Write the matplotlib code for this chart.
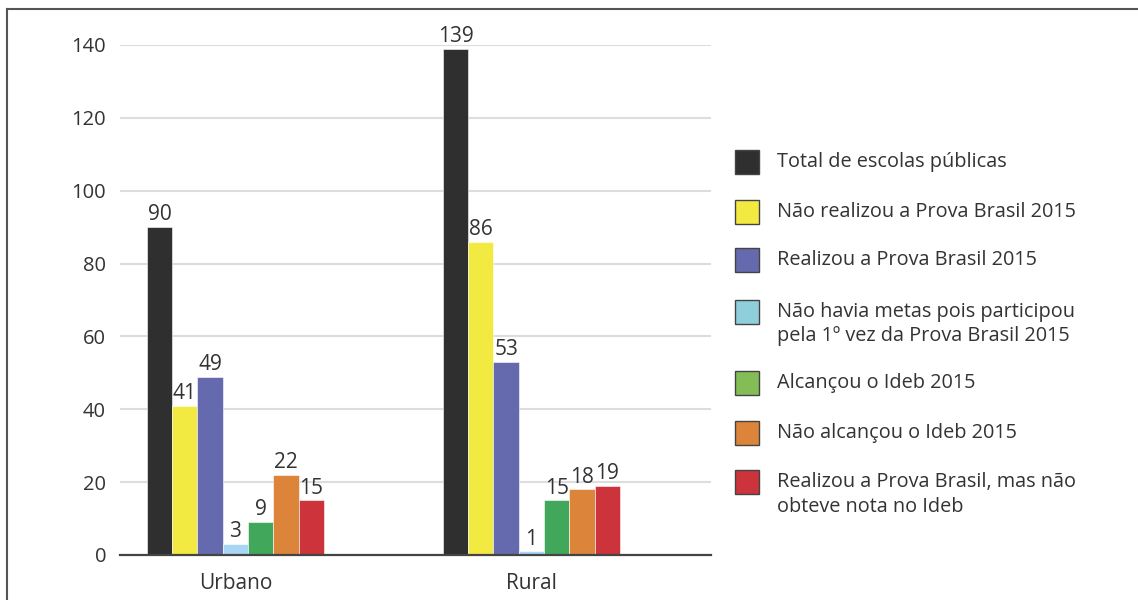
import matplotlib
matplotlib.use("Agg")
import matplotlib.pyplot as plt
from matplotlib.patches import Rectangle
from matplotlib.lines import Line2D
import numpy as np

categories = ["Urbano", "Rural"]
series_labels = [
    "Total de escolas públicas",
    "Não realizou a Prova Brasil 2015",
    "Realizou a Prova Brasil 2015",
    "Não havia metas pois participou\npela 1º vez da Prova Brasil 2015",
    "Alcançou o Ideb 2015",
    "Não alcançou o Ideb 2015",
    "Realizou a Prova Brasil, mas não\nobteve nota no Ideb",
]
urbano = [90, 41, 49, 3, 9, 22, 15]
rural = [139, 86, 53, 1, 15, 18, 19]
bar_colors = ["#2f2f2f", "#f2ea40", "#646aad", "#a9d6f3", "#41a75b", "#dc843a", "#cc333b"]
legend_colors = ["#2f2f2f", "#f2ea40", "#646aad", "#8fcfdc", "#84bd55", "#dc843a", "#cc333b"]
yticks = [0, 20, 40, 60, 80, 100, 120, 140]

FONT = "Open Sans"
plt.rcParams["font.family"] = [FONT, "DejaVu Sans"]
TXT = "#333333"

W, H = 1138, 600
fig = plt.figure(figsize=(W / 100, H / 100), dpi=100)
ax = fig.add_axes([120 / W, 45 / H, (711 - 120) / W, (555 - 45) / H])

values = np.array([urbano, rural])
n = len(series_labels)
bw = 25.3 / 296
x = np.arange(len(categories))
for i in range(n):
    offs = (i - (n - 1) / 2) * bw
    bars = ax.bar(x + offs, values[:, i], width=bw, color=bar_colors[i],
                  edgecolor="white", linewidth=0.4, zorder=3)
    for b, v in zip(bars, values[:, i]):
        ax.text(b.get_x() + b.get_width() / 2, v + 0.5, str(v), ha="center", va="bottom",
                fontsize=15, color=TXT, clip_on=False, zorder=4)

ax.set_xlim(-0.39, 1.607)
ax.set_ylim(0, 140)
ax.set_yticks(yticks)
ax.set_yticklabels([str(t) for t in yticks], fontsize=14.5, color=TXT)
ax.set_xticks(x)
ax.set_xticklabels(categories, fontsize=15, color=TXT)
ax.tick_params(axis="both", length=0)
ax.tick_params(axis="y", pad=10)
ax.tick_params(axis="x", pad=13)
ax.yaxis.grid(True, color="#dddddd", linewidth=1.5, zorder=0)
for s in ["top", "right", "left"]:
    ax.spines[s].set_visible(False)
ax.spines["bottom"].set_color("#444444")
ax.spines["bottom"].set_linewidth(1.6)
ax.spines["bottom"].set_zorder(5)

# Frame lines (left and top)
fig.add_artist(Line2D([7 / W, 7 / W], [0, 1 - 9 / H], color="#555555", linewidth=1.5))
fig.add_artist(Line2D([7 / W, 1], [1 - 9 / H, 1 - 9 / H], color="#555555", linewidth=1.5))

# Legend
patch_tops = [150, 200, 248, 300, 371, 421, 470]
for lab, col, top in zip(series_labels, legend_colors, patch_tops):
    fig.add_artist(Rectangle((735 / W, 1 - (top + 24) / H), 24 / W, 24 / H,
                             facecolor=col, edgecolor="#444444", linewidth=1.0))
    for k, line in enumerate(lab.split("\n")):
        fig.text(777 / W, 1 - (top + 12 + 24.5 * k) / H, line, ha="left", va="center",
                 fontsize=14.3, color=TXT)

fig.savefig("out.png", dpi=100)
